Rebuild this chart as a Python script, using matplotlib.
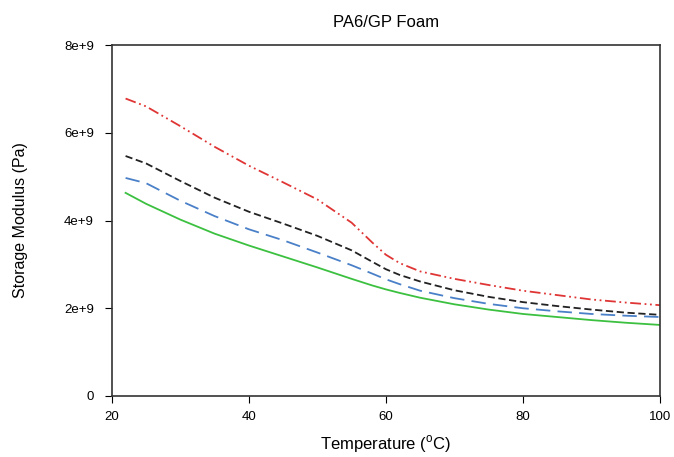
import numpy as np
import matplotlib
matplotlib.use("Agg")
import matplotlib.pyplot as plt

plt.rcParams['font.family'] = ['Liberation Sans', 'DejaVu Sans']

# temperature (C)
temp = [22, 25, 30, 35, 40, 45, 50, 55, 58, 60, 62, 65, 70, 75, 80, 85, 90, 95, 100]
# storage modulus, 1e9 Pa
red = [6.78, 6.6, 6.15, 5.68, 5.25, 4.87, 4.48, 3.95, 3.5, 3.22, 3.03, 2.84, 2.67, 2.53, 2.4, 2.3, 2.2, 2.13, 2.07]
black = [5.47, 5.3, 4.9, 4.52, 4.2, 3.93, 3.65, 3.32, 3.06, 2.89, 2.76, 2.61, 2.41, 2.26, 2.14, 2.05, 1.97, 1.9, 1.85]
blue = [4.97, 4.85, 4.45, 4.1, 3.8, 3.55, 3.27, 2.98, 2.79, 2.66, 2.55, 2.4, 2.23, 2.1, 2.0, 1.93, 1.87, 1.83, 1.8]
green = [4.63, 4.38, 4.02, 3.7, 3.43, 3.18, 2.93, 2.67, 2.52, 2.43, 2.35, 2.24, 2.09, 1.97, 1.87, 1.8, 1.73, 1.67, 1.62]

fig = plt.figure(figsize=(6.74, 4.57), dpi=100)
ax = fig.add_axes([0.166, 0.1335, 0.813, 0.768])

t = np.array(temp)
ax.plot(t, np.array(red) * 1e9, color='#e03535', lw=1.3, linestyle=(0, (6, 2, 1, 2, 1, 2)))
ax.plot(t, np.array(black) * 1e9, color='#222222', lw=1.3, linestyle=(0, (4, 2)))
ax.plot(t, np.array(blue) * 1e9, color='#4a80c8', lw=1.3, linestyle=(0, (8, 4)))
ax.plot(t, np.array(green) * 1e9, color='#3cc040', lw=1.3, linestyle='-')

ax.set_xlim(20, 100)
ax.set_ylim(0, 8e9)
ax.set_xticks([20, 40, 60, 80, 100])
ax.set_yticks([0, 2e9, 4e9, 6e9, 8e9])
ax.set_yticklabels(['0', '2e+9', '4e+9', '6e+9', '8e+9'])
ax.tick_params(direction='out', length=5, labelsize=9.5, pad=8)
ax.tick_params(axis='x', pad=6)
for s in ax.spines.values():
    s.set_color('#333333')
    s.set_linewidth(1.2)

ax.set_title('PA6/GP Foam', fontsize=12, pad=13)
ax.set_xlabel('Temperature ($^{\\mathregular{o}}$C)', fontsize=12, labelpad=7)
ax.set_ylabel('Storage Modulus (Pa)', fontsize=11.5, labelpad=26)

fig.savefig('out.png', dpi=100)
